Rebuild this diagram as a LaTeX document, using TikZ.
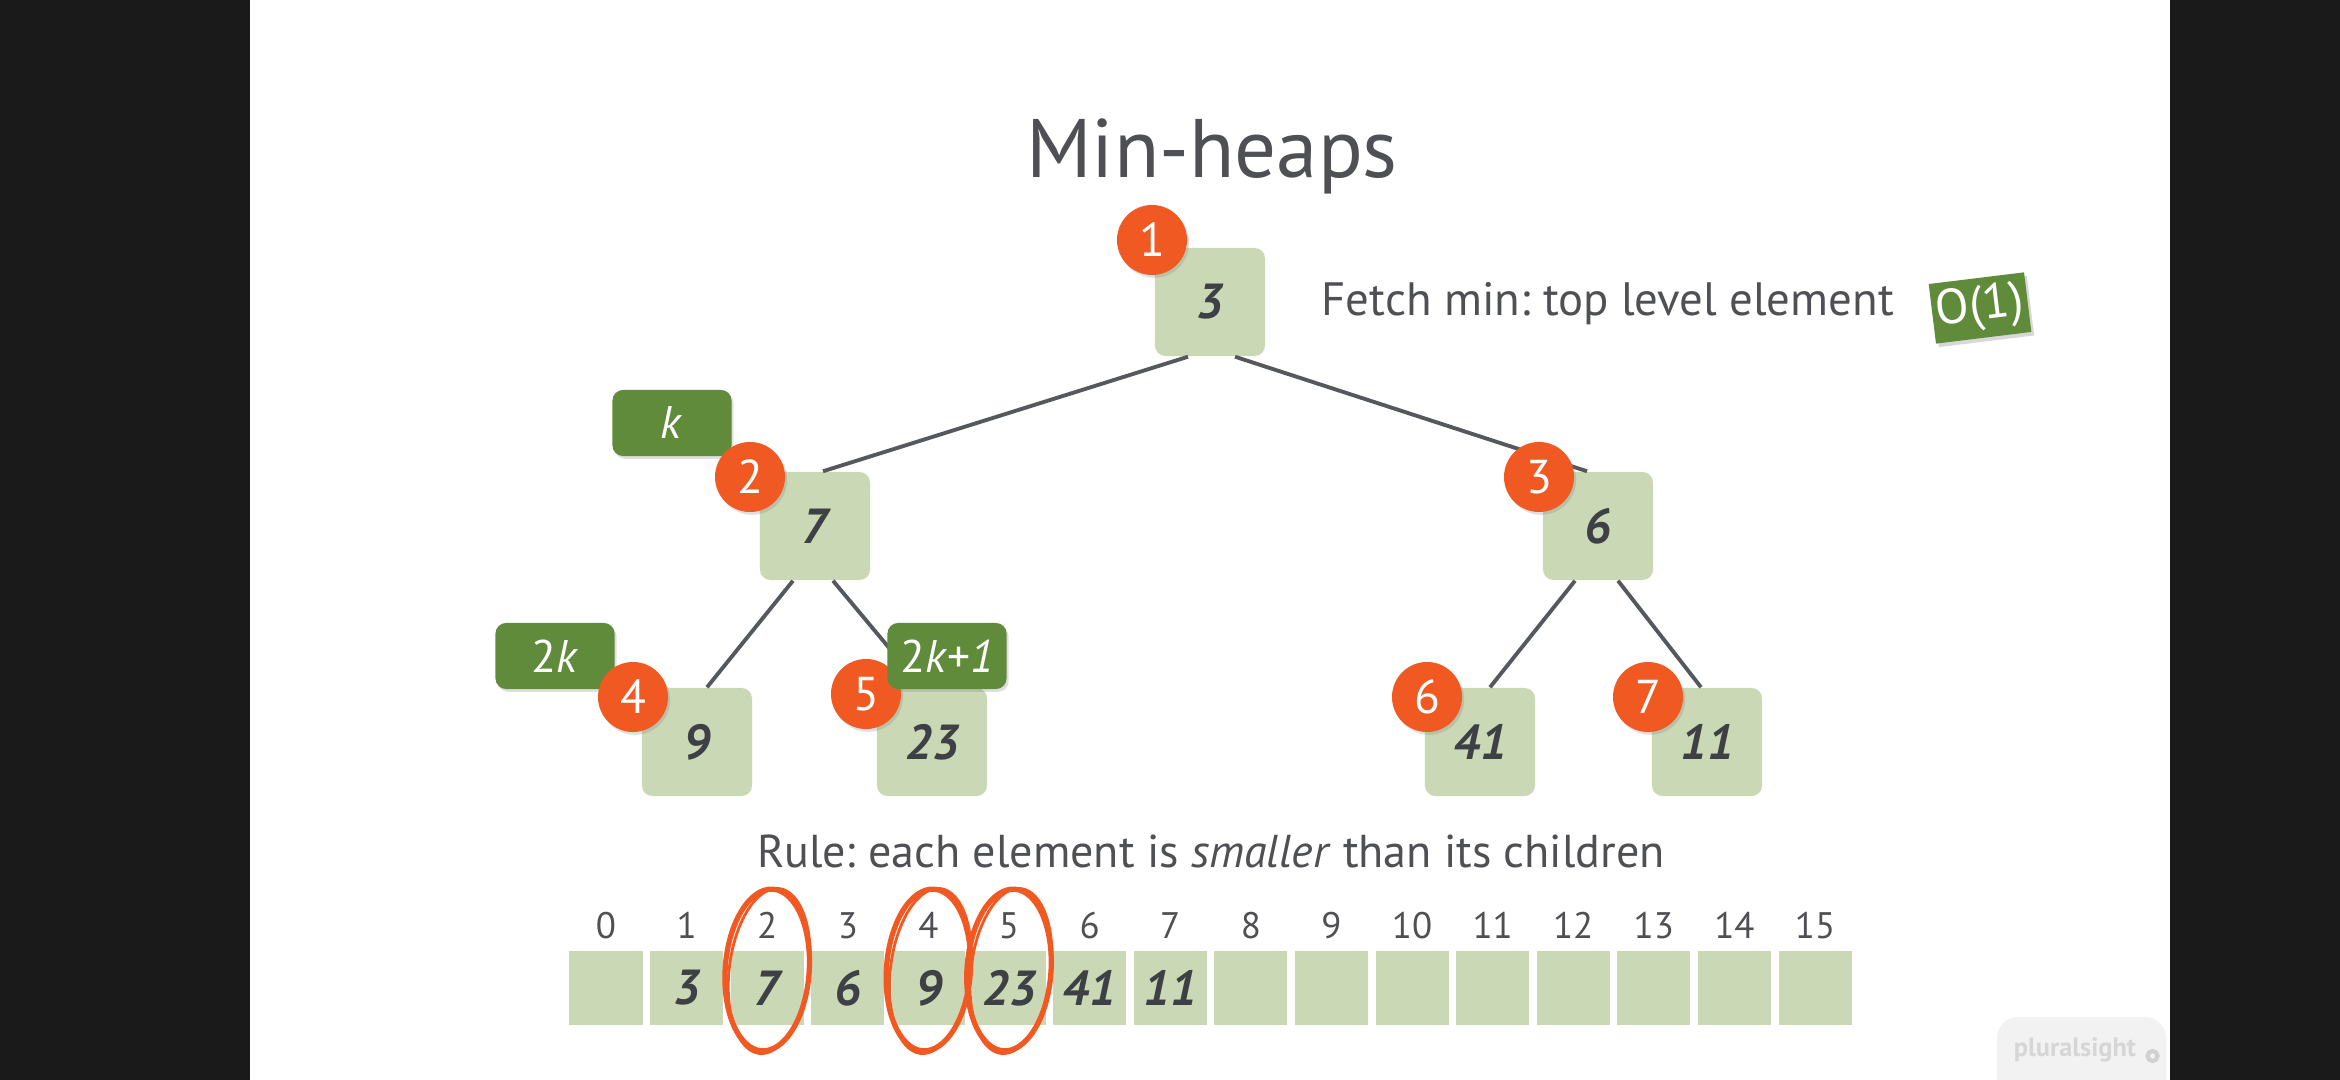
\documentclass[tikz,border=0pt]{standalone}
\usepackage{fontspec}
\setmainfont{PT Sans}
\usetikzlibrary{positioning,calc,shadows}

\definecolor{slidebg}{HTML}{1A1A1A}
\definecolor{cellgreen}{HTML}{CAD8B5}
\definecolor{taggreen}{HTML}{5F8B3B}
\definecolor{idxorange}{HTML}{F05A22}
\definecolor{inkgrey}{HTML}{3D4045}
\definecolor{textgrey}{HTML}{4F5054}
\definecolor{edgegrey}{HTML}{55595D}

\newcommand\valfont{\fontsize{14}{15}\selectfont\bfseries\itshape}
\newcommand\tagfont{\fontsize{13}{15}\selectfont}

\tikzset{
  heapbox/.style={fill=cellgreen,rounded corners=3pt,minimum width=1.1cm,
    minimum height=1.08cm,inner sep=0pt,text=inkgrey,font=\valfont},
  cellbox/.style={fill=cellgreen,minimum width=0.73cm,minimum height=0.73cm,
    inner sep=0pt,text=inkgrey,font=\valfont},
  idxdot/.style={circle,fill=idxorange,minimum size=0.7cm,inner sep=0pt,
    text=white,font=\fontsize{13.5}{15}\selectfont,
    drop shadow={opacity=0.25,shadow xshift=0.6pt,shadow yshift=-0.8pt}},
  tagbox/.style={fill=taggreen,rounded corners=3pt,minimum width=1.19cm,
    minimum height=0.66cm,inner sep=0pt,text=white,font=\tagfont,
    drop shadow={opacity=0.25,shadow xshift=0.6pt,shadow yshift=-0.8pt}},
  heapedge/.style={draw=edgegrey,line width=1.1pt},
  scribble/.style={draw=idxorange,line width=1.5pt}
}

\begin{document}
\frenchspacing
\begin{tikzpicture}[x=0.01cm,y=-0.01cm]
\useasboundingbox (0,0) rectangle (2340,1080);
\fill[slidebg] (0,0) rectangle (2340,1080);
\fill[white] (250,0) rectangle (2170,1080);

% title and texts
\path (1212,178) node(title)[anchor=base,text=textgrey,font=\fontsize{23.6}{26}\selectfont] {Min-heaps};
\path (1321,316) node(fetch)[anchor=base west,inner xsep=0pt,text=textgrey,font=\fontsize{13.3}{16}\selectfont] {Fetch min: top level element};
\path (1980,308) node(cost)[fill=taggreen,minimum width=0.96cm,minimum height=0.6cm,inner sep=0pt,rotate=7,
  text=white,font=\fontsize{14}{15}\selectfont,
  drop shadow={opacity=0.3,shadow xshift=0.8pt,shadow yshift=-1pt}] {O(1)};
\path (1211,867) node(rule)[anchor=base,text=textgrey,font=\fontsize{13.1}{16}\selectfont] {Rule: each element is \textit{smaller} than its children};

% tree
\path (1210,302) node(n1)[heapbox] {3};
\path (815,526) node(n2)[heapbox] {7};
\path (1598,526) node(n3)[heapbox] {6};
\path (697,742) node(n4)[heapbox] {9};
\path (932,742) node(n5)[heapbox] {23};
\path (1480,742) node(n6)[heapbox] {41};
\path (1707,742) node(n7)[heapbox] {11};

\draw[heapedge] ($(n1.south)+(-22,0)$) -- ($(n2.north)+(8,0)$);
\draw[heapedge] ($(n1.south)+(25,0)$) -- ($(n3.north)+(-11,0)$);
\draw[heapedge] ($(n2.south)+(-22,0)$) -- ($(n4.north)+(10,0)$);
\draw[heapedge] ($(n2.south)+(18,0)$) -- ($(n5.north)+(-10,0)$);
\draw[heapedge] ($(n3.south)+(-23,0)$) -- ($(n6.north)+(10,0)$);
\draw[heapedge] ($(n3.south)+(20,0)$) -- ($(n7.north)+(-6,0)$);

\path (672,423) node(tk)[tagbox] {\textit{k}};
\path (555,656) node(t2k)[tagbox] {2\textit{k}};

\path (1152,240) node(c1)[idxdot] {1};
\path (750,477) node(c2)[idxdot] {2};
\path (1539,477) node(c3)[idxdot] {3};
\path (633,697) node(c4)[idxdot] {4};
\path (866,694) node(c5)[idxdot] {5};
\path (1427,697) node(c6)[idxdot] {6};
\path (1648,697) node(c7)[idxdot] {7};

\path (947,656) node(t2k1)[tagbox] {2\textit{k}+\textit{1}};

% array
\foreach \i/\v in {0/,1/3,2/7,3/6,4/9,5/23,6/41,7/11,8/,9/,10/,11/,12/,13/,14/,15/} {
  \path (606+80.6*\i,988) node(a\i)[cellbox] {\v};
  \path (606+80.6*\i,938) node(i\i)[anchor=base,text=textgrey,font=\fontsize{10.5}{12}\selectfont] {\i};
}

% hand drawn marks
\foreach \i in {2,4,5} {
  \draw[scribble] ($(a\i)+(0,-18)$) ellipse [x radius=42,y radius=81,rotate=-4];
  \draw[scribble,line width=0.8pt] ($(a\i)+(2,-17)$) ellipse [x radius=40,y radius=83,rotate=-7];
}

% watermark
\fill[black!5,rounded corners=6pt] (1997,1017) rectangle (2166,1100);
\path (2075,1050) node(mark)[text=black!16,font=\fontsize{7.5}{9}\selectfont\bfseries] {pluralsight};
\draw[black!18,line width=1.2pt] (mark.east) ++(4,6) circle [radius=5];
\end{tikzpicture}
\end{document}
